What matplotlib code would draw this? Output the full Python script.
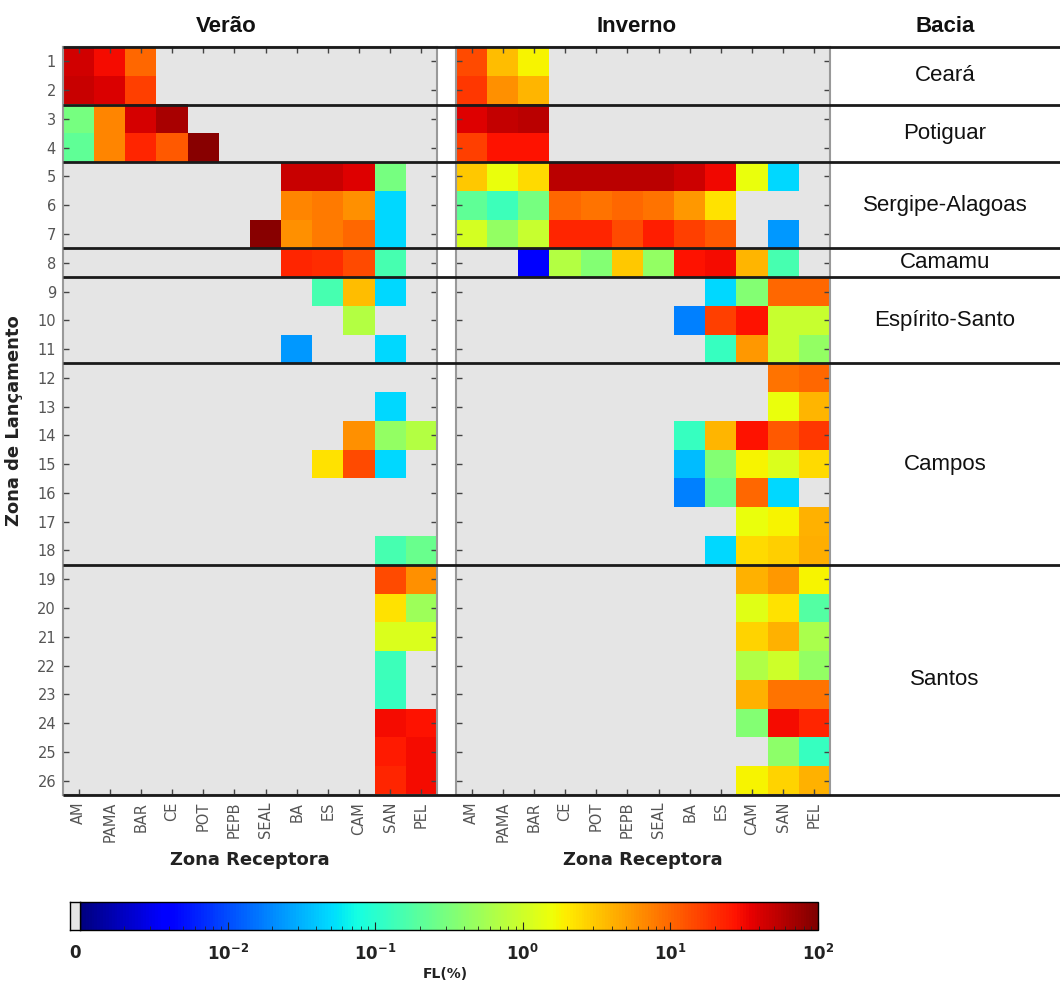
import numpy as np
import matplotlib
matplotlib.use("Agg")
import matplotlib.pyplot as plt
from matplotlib.colors import LogNorm
from matplotlib.cm import ScalarMappable
from matplotlib.ticker import LogLocator, NullFormatter

# zonas receptoras (colunas) e zonas de lancamento (linhas)
zonas = ['AM', 'PAMA', 'BAR', 'CE', 'POT', 'PEPB', 'SEAL', 'BA', 'ES', 'CAM', 'SAN', 'PEL']
lancamento = list(range(1, 27))

# FL(%) - verao (0 = sem toque)
verao = [
    [43, 30, 10, 0, 0, 0, 0, 0, 0, 0, 0, 0],
    [48, 40, 16, 0, 0, 0, 0, 0, 0, 0, 0, 0],
    [0.3, 7, 42, 65, 0, 0, 0, 0, 0, 0, 0, 0],
    [0.22, 7, 22, 12, 90, 0, 0, 0, 0, 0, 0, 0],
    [0, 0, 0, 0, 0, 0, 0, 48, 48, 38, 0.3, 0],
    [0, 0, 0, 0, 0, 0, 0, 7, 8, 6, 0.05, 0],
    [0, 0, 0, 0, 0, 0, 90, 6, 8, 10, 0.05, 0],
    [0, 0, 0, 0, 0, 0, 0, 22, 20, 14, 0.15, 0],
    [0, 0, 0, 0, 0, 0, 0, 0, 0.15, 3.5, 0.05, 0],
    [0, 0, 0, 0, 0, 0, 0, 0, 0, 0.7, 0, 0],
    [0, 0, 0, 0, 0, 0, 0, 0.024, 0, 0, 0.05, 0],
    [0, 0, 0, 0, 0, 0, 0, 0, 0, 0, 0, 0],
    [0, 0, 0, 0, 0, 0, 0, 0, 0, 0, 0.05, 0],
    [0, 0, 0, 0, 0, 0, 0, 0, 0, 6, 0.45, 0.7],
    [0, 0, 0, 0, 0, 0, 0, 0, 2.2, 14, 0.05, 0],
    [0, 0, 0, 0, 0, 0, 0, 0, 0, 0, 0, 0],
    [0, 0, 0, 0, 0, 0, 0, 0, 0, 0, 0, 0],
    [0, 0, 0, 0, 0, 0, 0, 0, 0, 0, 0.15, 0.25],
    [0, 0, 0, 0, 0, 0, 0, 0, 0, 0, 14, 6],
    [0, 0, 0, 0, 0, 0, 0, 0, 0, 0, 2.2, 0.5],
    [0, 0, 0, 0, 0, 0, 0, 0, 0, 0, 1.2, 1.2],
    [0, 0, 0, 0, 0, 0, 0, 0, 0, 0, 0.13, 0],
    [0, 0, 0, 0, 0, 0, 0, 0, 0, 0, 0.12, 0],
    [0, 0, 0, 0, 0, 0, 0, 0, 0, 0, 30, 28],
    [0, 0, 0, 0, 0, 0, 0, 0, 0, 0, 25, 30],
    [0, 0, 0, 0, 0, 0, 0, 0, 0, 0, 22, 30],
]

# FL(%) - inverno
inverno = [
    [14, 3.5, 1.8, 0, 0, 0, 0, 0, 0, 0, 0, 0],
    [18, 6, 3.8, 0, 0, 0, 0, 0, 0, 0, 0, 0],
    [38, 50, 55, 0, 0, 0, 0, 0, 0, 0, 0, 0],
    [16, 28, 28, 0, 0, 0, 0, 0, 0, 0, 0, 0],
    [3, 1.5, 2.5, 55, 55, 55, 55, 45, 32, 1.5, 0.05, 0],
    [0.22, 0.13, 0.3, 10, 8.5, 10, 8.5, 5.5, 2.2, 0, 0, 0],
    [1.1, 0.45, 0.9, 22, 22, 14, 24, 16, 12, 0, 0.024, 0],
    [0, 0, 0.004, 0.7, 0.35, 3, 0.45, 28, 30, 3.8, 0.15, 0],
    [0, 0, 0, 0, 0, 0, 0, 0, 0.05, 0.35, 10, 10],
    [0, 0, 0, 0, 0, 0, 0, 0.018, 16, 28, 0.9, 0.9],
    [0, 0, 0, 0, 0, 0, 0, 0, 0.12, 5.5, 0.9, 0.45],
    [0, 0, 0, 0, 0, 0, 0, 0, 0, 0, 8.5, 10],
    [0, 0, 0, 0, 0, 0, 0, 0, 0, 0, 1.5, 3.8],
    [0, 0, 0, 0, 0, 0, 0, 0.12, 3.8, 28, 12, 18],
    [0, 0, 0, 0, 0, 0, 0, 0.036, 0.35, 1.8, 1.2, 2.5],
    [0, 0, 0, 0, 0, 0, 0, 0.018, 0.25, 10, 0.05, 0],
    [0, 0, 0, 0, 0, 0, 0, 0, 0, 1.5, 1.8, 4],
    [0, 0, 0, 0, 0, 0, 0, 0, 0.05, 2.5, 2.8, 4.2],
    [0, 0, 0, 0, 0, 0, 0, 0, 0, 4, 5.5, 1.8],
    [0, 0, 0, 0, 0, 0, 0, 0, 0, 1.3, 2.2, 0.18],
    [0, 0, 0, 0, 0, 0, 0, 0, 0, 2.7, 4, 0.6],
    [0, 0, 0, 0, 0, 0, 0, 0, 0, 0.65, 1.0, 0.45],
    [0, 0, 0, 0, 0, 0, 0, 0, 0, 4, 8.5, 8.5],
    [0, 0, 0, 0, 0, 0, 0, 0, 0, 0.35, 30, 22],
    [0, 0, 0, 0, 0, 0, 0, 0, 0, 0, 0.4, 0.12],
    [0, 0, 0, 0, 0, 0, 0, 0, 0, 1.8, 2.7, 4],
]

# bacias: nome, primeira e ultima zona
bacias = ['Ceará', 'Potiguar', 'Sergipe-Alagoas', 'Camamu', 'Espírito-Santo', 'Campos', 'Santos']
bacia_ini = [1, 3, 5, 8, 9, 12, 19]
bacia_fim = [2, 4, 7, 8, 11, 18, 26]

W, H = 1060, 983
fig = plt.figure(figsize=(W / 100, H / 100), dpi=100)

norm = LogNorm(vmin=1e-3, vmax=1e2)
cmap = plt.cm.jet
cinza = '#e5e5e5'
tick_cor = '#444444'

def fx(px):
    return px / W

def fy(py):
    return 1 - py / H

top, bot = 47, 795
ax_h = (bot - top) / H

def heatmap(left_px, dados, rotulos_y):
    ax = fig.add_axes([fx(left_px), fy(bot), fx(374), ax_h])
    d = np.ma.masked_less_equal(np.array(dados, dtype=float), 0)
    ax.set_facecolor(cinza)
    ax.imshow(d, cmap=cmap, norm=norm, aspect='auto', interpolation='nearest',
              extent=(0.5, len(zonas) + 0.5, len(lancamento) + 0.5, 0.5))
    ax.set_xticks(range(1, len(zonas) + 1))
    ax.set_xticklabels(zonas, rotation=90, fontsize=10.5, color='#555555')
    ax.set_yticks(lancamento)
    if rotulos_y:
        ax.set_yticklabels(lancamento, fontsize=10.5, color='#555555')
    else:
        ax.set_yticklabels([])
    ax.tick_params(direction='in', length=4, width=1, color=tick_cor,
                   top=True, right=True, bottom=True, left=True, pad=5)
    for s in ax.spines.values():
        s.set_color('#999999')
        s.set_linewidth(1.5)
    ax.set_xlabel('Zona Receptora', fontsize=13, fontweight='bold', color='#222222', labelpad=6)
    return ax

ax1 = heatmap(63, verao, True)
ax1.set_ylabel('Zona de Lançamento', fontsize=13, fontweight='bold', color='#222222', labelpad=10)
ax2 = heatmap(456, inverno, False)

# painel das bacias
axb = fig.add_axes([fx(830), fy(bot), fx(230), ax_h])
axb.set_xlim(0, 1)
axb.set_ylim(len(lancamento) + 0.5, 0.5)
axb.axis('off')
for nome, a, b in zip(bacias, bacia_ini, bacia_fim):
    axb.text(0.5, (a + b) / 2, nome, ha='center', va='center', fontsize=16,
             family=['Liberation Sans', 'DejaVu Sans'], color='#111111')

# linhas separando as bacias
axl = fig.add_axes([fx(63), fy(bot), fx(997), ax_h])
axl.set_xlim(0, 1)
axl.set_ylim(len(lancamento) + 0.5, 0.5)
axl.axis('off')
limites = [0.5] + [b + 0.5 for b in bacia_fim]
axl.hlines(limites, 0, 1, color='#1a1a1a', lw=2, clip_on=False)

# titulos
tfont = dict(fontsize=16, fontweight='bold', family=['Liberation Sans', 'DejaVu Sans'],
             ha='center', va='center', color='#111111')
fig.text(fx(226), fy(27), 'Verão', **tfont)
fig.text(fx(637), fy(27), 'Inverno', **tfont)
fig.text(fx(945), fy(27), 'Bacia', **tfont)

# barra de cores
cax = fig.add_axes([fx(80), fy(930), fx(738), 28 / H])
cb = fig.colorbar(ScalarMappable(norm=norm, cmap=cmap), cax=cax, orientation='horizontal')
cb.set_ticks([1e-2, 1e-1, 1e0, 1e1, 1e2])
cb.set_ticklabels([r'$\mathbf{10^{-2}}$', r'$\mathbf{10^{-1}}$', r'$\mathbf{10^{0}}$',
                   r'$\mathbf{10^{1}}$', r'$\mathbf{10^{2}}$'])
cax.xaxis.set_minor_locator(LogLocator(base=10, subs=np.arange(2, 10)))
cax.xaxis.set_minor_formatter(NullFormatter())
cax.tick_params(which='major', direction='in', length=6, labelsize=12, pad=10, colors='#222222')
cax.tick_params(which='minor', direction='in', length=3, color='#222222')
cb.outline.set_linewidth(1)

gax = fig.add_axes([fx(70), fy(930), fx(10), 28 / H])
gax.set_facecolor(cinza)
gax.set_xticks([])
gax.set_yticks([])
for s in gax.spines.values():
    s.set_linewidth(1)
fig.text(fx(75), fy(953), '0', ha='center', va='center', fontsize=12, fontweight='bold', color='#222222')
fig.text(fx(445), fy(974), 'FL(%)', ha='center', va='center', fontsize=10, fontweight='bold', color='#222222')

fig.savefig('out.png', dpi=100)
